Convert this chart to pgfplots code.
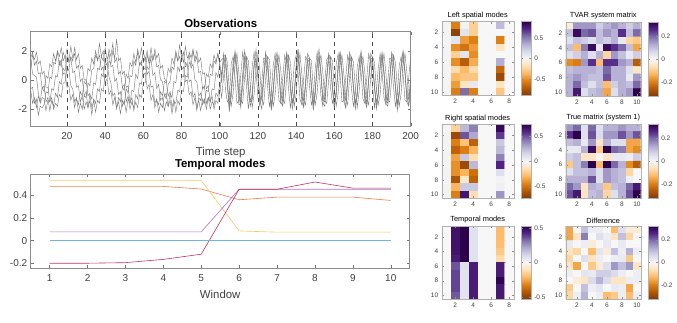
\documentclass[border=0pt]{standalone}
\usepackage{fontspec}
\setmainfont{Liberation Sans}
\usepackage{pgfplots}
\usepackage{pgfplotstable}
\pgfplotsset{compat=1.18}

\pgfplotsset{
  colormap={puor}{rgb255=(127,59,8) rgb255=(179,88,6) rgb255=(224,130,20) rgb255=(253,184,99) rgb255=(254,224,182) rgb255=(247,247,247) rgb255=(216,218,235) rgb255=(178,171,210) rgb255=(128,115,172) rgb255=(84,39,136) rgb255=(45,0,75)},
  every axis/.append style={/pgf/number format/assume math mode=true},
  lineax/.style={
    scale only axis,
    axis line style={black!45, line width=0.5pt},
    tick style={black!55, line width=0.4pt},
    tick align=inside, major tick length=3pt,
    tick label style={font=\fontsize{10}{11}\selectfont, text=black!75},
    xticklabel style={yshift=-3pt},
    title style={font=\bfseries\fontsize{11.4}{13}\selectfont, yshift=-5pt},
    label style={font=\fontsize{11.4}{13}\selectfont, text=black!75},
    xlabel style={yshift=-1pt},
  },
  hm/.style={
    scale only axis, height=74pt, y dir=reverse,
    xmin=0.5, ymin=0.5, ymax=10.5,
    axis on top, colormap name=puor, colorbar,
    tick align=inside, major tick length=2pt,
    tick style={black!45, line width=0.3pt},
    axis line style={black!30, line width=0.4pt},
    ytick={2,4,6,8,10},
    tick label style={font=\fontsize{6.5}{7}\selectfont, text=black!75},
    title style={font=\fontsize{7.4}{8}\selectfont, yshift=-7pt},
    colorbar style={
      scale only axis, width=9.5pt, at={(parent axis.north east)},
      anchor=north west, xshift=-1pt,
      axis line style={black!30}, tick style={black!45},
      major tick length=2pt, tick align=inside,
      yticklabel style={font=\fontsize{6.5}{7}\selectfont, text=black!75},
    },
  },
  obsline/.style={black!52, line width=0.42pt},
}

\pgfplotstableread{
t a b c d e
1 1.4 -0.6 1.5 -0.7 0.9
2 0.4 -0.5 1.9 -1.6 1.7
3 0.3 -1.6 1.0 -1.2 1.4
4 0.2 -1.3 1.3 -1.9 1.9
5 -0.9 -2.4 0.4 -1.1 1.1
6 -1.6 -1.8 0.5 -1.5 1.3
7 -1.2 -1.9 -0.6 -0.5 0.4
8 -1.3 -1.7 -0.4 -0.8 0.6
9 -2.1 -0.8 -1.5 0.3 -0.5
10 -1.4 -0.9 -1.2 0.1 -0.5
11 -1.5 0.2 -2.1 1.1 -1.5
12 -0.6 0.1 -1.4 0.9 -1.2
13 -0.7 1.2 -1.8 1.8 -2.0
14 0.3 1.1 -0.9 1.3 -1.6
15 0.2 2.0 -1.2 1.9 -1.8
16 1.3 1.6 -0.1 1.0 -1.0
17 0.9 2.2 -0.3 1.4 -1.2
18 1.9 1.3 0.8 0.4 -0.2
19 1.5 1.6 0.6 0.5 -0.2
20 2.1 0.6 1.6 -0.5 0.8
21 1.2 0.7 1.3 -0.4 0.7
22 1.5 -0.4 2.3 -1.4 1.6
23 0.5 -0.6 1.5 -1.0 1.3
24 0.6 -1.5 1.8 -1.9 2.2
25 -0.5 -1.2 0.8 -1.3 1.4
26 -0.4 -2.2 1.0 -1.7 1.8
27 -1.5 -1.6 -0.1 -0.8 0.8
28 -1.1 -2.0 0.1 -1.1 1.0
29 -2.0 -1.1 -1.1 -0.1 0.0
30 -1.5 -1.2 -0.8 -0.3 0.0
31 -1.9 -0.2 -1.9 0.8 -1.1
32 -1.0 -0.4 -1.4 0.6 -0.9
33 -1.3 0.7 -2.4 1.5 -1.9
34 -0.2 0.8 -1.3 1.1 -1.4
35 -0.3 1.7 -1.6 2.0 -2.2
36 0.8 1.4 -0.6 1.3 -1.4
37 0.7 2.5 -0.8 1.7 -1.6
38 1.6 1.6 0.4 0.7 -0.6
39 1.3 2.0 0.2 0.9 -0.8
40 2.2 1.0 1.3 -0.2 0.4
41 1.4 1.1 1.0 0.1 0.2
42 1.8 0.2 2.1 -1.0 1.3
43 0.9 -0.2 1.6 -0.7 1.1
44 1.0 -1.1 2.5 -1.7 2.0
45 -0.1 -0.9 1.2 -1.2 1.5
46 0.1 -1.9 1.5 -2.0 2.8
47 -1.0 -1.5 0.4 -1.2 1.3
48 -0.8 -2.3 0.6 -1.5 1.5
49 -1.8 -1.4 -0.5 -0.5 0.4
50 -1.4 -1.7 -0.3 -0.7 0.6
51 -2.2 -0.6 -1.5 0.4 -0.5
52 -1.3 -0.9 -1.1 0.1 -0.4
53 -1.6 0.3 -2.0 1.2 -1.6
54 -0.7 0.2 -1.5 0.9 -1.2
55 -0.8 1.3 -1.9 1.8 -2.1
56 0.4 1.0 -1.0 1.2 -1.5
57 0.1 2.1 -1.3 1.9 -1.9
58 1.2 1.5 -0.2 1.0 -1.0
59 1.0 2.2 -0.3 1.3 -1.2
60 1.9 1.2 0.9 0.3 -0.2
61 1.4 1.5 0.7 0.5 -0.2
62 2.0 0.4 1.7 -0.6 0.9
63 1.1 0.6 1.2 -0.3 0.7
64 1.4 -0.5 2.2 -1.4 1.7
65 0.3 -0.4 1.4 -1.0 1.3
66 0.5 -1.6 1.8 -1.9 2.1
67 -0.6 -1.3 0.9 -1.4 1.5
68 -0.3 -2.2 1.0 -1.7 1.8
69 -1.4 -1.6 0.0 -0.8 0.8
70 -1.2 -1.9 -0.1 -1.1 1.0
71 -2.1 -1.0 -1.1 -0.1 0.1
72 -1.5 -1.3 -0.9 -0.2 -0.1
73 -1.8 -0.3 -1.8 0.8 -1.1
74 -0.9 -0.1 -1.4 0.5 -0.8
75 -1.2 0.9 -2.3 1.5 -1.9
76 -0.1 0.7 -1.5 1.1 -1.3
77 -0.2 1.8 -1.6 2.0 -2.2
78 0.9 1.3 -0.7 1.3 -1.4
79 0.6 2.4 -0.8 1.6 -1.7
80 1.7 1.5 0.3 0.7 -0.7
81 1.2 1.9 0.2 0.9 -0.8
82 2.3 0.9 1.2 -0.1 0.3
83 1.5 1.0 1.0 0.0 0.2
84 1.7 -0.1 1.9 -1.0 1.2
85 0.8 0.0 1.5 -0.8 1.0
86 1.1 -1.2 2.1 -1.7 2.0
87 0.0 -0.9 1.2 -1.2 1.4
88 -0.1 -1.9 1.6 -2.1 2.0
89 -1.1 -1.4 0.5 -1.2 1.2
90 -0.9 -2.1 0.6 -1.4 1.5
91 -1.7 -1.3 -0.6 -0.5 0.4
92 -1.3 -1.6 -0.4 -0.6 0.5
93 -2.0 -0.7 -1.6 0.4 -0.6
94 -1.2 -0.8 -1.2 0.2 -0.4
95 -1.5 0.4 -2.0 1.1 -1.5
96 -0.6 0.3 -1.5 0.8 -1.1
97 -0.7 1.3 -1.7 1.7 -2.0
98 0.5 1.1 -0.9 1.2 -1.4
99 0.2 1.8 -1.1 1.8 -1.6
100 1.1 1.2 -0.3 1.0 -0.8
101 0.3 1.4 -1.2 -0.2 0.4
102 1.8 1.5 0.2 1.6 1.2
103 1.0 -0.7 1.7 1.7 1.4
104 -0.3 -1.5 1.2 -0.4 -0.2
105 -1.9 -1.3 -0.6 -2.2 -1.7
106 -1.2 1.1 -1.8 -0.9 -0.6
107 0.6 1.6 -0.9 1.3 0.6
108 2.0 0.2 1.0 1.8 1.7
109 0.9 -1.6 1.8 0.4 0.7
110 -1.0 -1.4 0.5 -1.7 -1.0
111 -1.9 0.3 -1.4 -1.6 -1.6
112 -0.4 1.9 -1.6 0.2 0.3
113 1.3 1.1 0.1 2.0 1.6
114 1.6 -0.4 1.6 1.3 1.0
115 -0.2 -2.0 1.3 -0.8 -0.6
116 -1.5 -0.7 -0.4 -1.8 -1.4
117 -1.4 0.9 -1.9 -1.2 -1.0
118 1.2 1.9 -1.0 0.9 1.0
119 1.5 0.6 0.8 2.1 1.4
120 0.2 -1.2 1.8 0.7 0.3
121 -1.6 -1.8 0.6 -1.4 -1.3
122 -1.3 -0.2 -1.3 -2.0 -1.2
123 0.3 1.5 -1.7 -0.1 0.2
124 1.9 1.4 0.0 1.7 1.3
125 0.9 -0.4 1.6 1.6 1.2
126 -0.7 -1.8 1.4 -0.5 -0.3
127 -2.0 -1.1 -0.5 -2.1 -1.7
128 -0.6 1.0 -1.8 -1.0 -0.7
129 1.1 1.8 -1.0 1.2 0.7
130 1.4 0.4 0.9 1.9 1.6
131 0.8 -1.4 1.7 0.5 0.6
132 -1.5 -1.6 0.6 -1.6 -1.0
133 -1.8 0.1 -1.3 -1.7 -1.5
134 0.2 1.7 -1.6 0.1 0.2
135 1.7 1.2 0.1 1.9 1.5
136 1.1 -0.6 1.7 1.4 1.0
137 -0.2 -1.9 1.2 -0.7 -0.5
138 -1.6 -0.8 -0.5 -2.0 -1.5
139 -1.2 1.1 -1.8 -1.1 -0.9
140 0.7 1.7 -1.0 1.0 0.9
141 2.1 0.5 1.0 2.0 1.5
142 0.4 -1.3 1.8 0.6 0.3
143 -1.1 -1.7 0.4 -1.5 -1.2
144 -1.8 0.2 -1.4 -1.9 -1.4
145 -0.3 1.6 -1.7 0.0 -0.1
146 1.4 1.3 0.1 1.8 1.4
147 1.5 -0.4 1.5 1.5 1.2
148 -0.6 -1.7 1.3 -0.6 -0.3
149 -1.8 -1.2 -0.6 -2.1 -1.6
150 -1.0 0.8 -1.7 -0.9 -0.7
151 1.2 1.9 -0.9 1.1 0.8
152 1.6 0.6 1.1 2.1 1.6
153 0.3 -1.1 1.7 0.5 0.5
154 -1.4 -1.8 0.5 -1.6 -1.2
155 -1.5 -0.1 -1.4 -1.8 -1.3
156 0.2 1.4 -1.6 -0.1 0.2
157 1.8 1.6 -0.1 1.7 1.3
158 1.2 -0.5 1.6 1.6 1.1
159 -0.4 -1.6 1.3 -0.6 -0.5
160 -1.9 -1.0 -0.6 -1.9 -1.5
161 -0.8 1.1 -1.8 -1.1 -0.8
162 0.8 1.8 -0.9 1.2 0.7
163 1.9 0.4 1.0 1.9 1.6
164 0.7 -1.5 1.7 0.6 0.4
165 -1.2 -1.4 0.4 -1.5 -1.1
166 -1.9 0.2 -1.3 -1.9 -1.4
167 -0.1 1.7 -1.7 0.1 0.1
168 1.6 1.1 0.2 1.9 1.5
169 1.3 -0.6 1.6 1.4 1.2
170 -0.5 -1.8 1.2 -0.7 -0.4
171 -1.6 -0.9 -0.5 -2.0 -1.6
172 -1.1 0.9 -1.9 -1.0 -0.8
173 1.0 1.6 -0.8 1.0 0.8
174 1.8 0.6 1.1 2.0 1.5
175 0.4 -1.3 1.6 0.7 0.5
176 -1.3 -1.6 0.5 -1.4 -1.2
177 -1.7 0.1 -1.3 -1.9 -1.5
178 0.1 1.8 -1.7 0.0 0.0
179 1.5 1.2 0.1 1.8 1.4
180 1.4 -0.4 1.6 1.5 1.1
181 -0.3 -1.9 1.2 -0.5 -0.5
182 -1.8 -0.8 -0.6 -2.0 -1.5
183 -1.0 0.8 -1.7 -1.1 -0.9
184 0.9 1.8 -1.0 1.1 0.8
185 1.7 0.6 0.9 1.9 1.6
186 0.6 -1.2 1.8 0.5 0.4
187 -1.4 -1.7 0.5 -1.6 -1.1
188 -1.6 -0.1 -1.4 -1.8 -1.4
189 0.0 1.5 -1.5 -0.1 0.1
190 1.7 1.4 0.0 1.9 1.4
191 1.2 -0.5 1.7 1.5 1.2
192 -0.6 -1.8 1.2 -0.6 -0.4
193 -1.7 -1.0 -0.5 -2.1 -1.6
194 -0.9 1.0 -1.8 -1.0 -0.7
195 1.0 1.6 -0.9 1.1 0.9
196 1.9 0.4 1.0 2.0 1.5
197 0.5 -1.4 1.8 0.6 0.5
198 -1.2 -1.5 0.5 -1.5 -1.2
199 -1.7 0.2 -1.4 -1.8 -1.3
200 0.1 1.6 -1.5 0.0 0.1
}\obs

\begin{document}
\begin{tikzpicture}
\useasboundingbox (0pt,0pt) rectangle (677pt,322pt);

% observations
\begin{axis}[lineax, at={(30.7pt,196pt)}, anchor=south west,
  width=380pt, height=94.3pt,
  xmin=1, xmax=200, ymin=-3.15, ymax=3.3,
  xtick={20,40,...,200}, ytick={-2,0,2},
  title={Observations}, xlabel={Time step}]
\addplot[obsline] table[x=t, y=a] {\obs};
\addplot[obsline] table[x=t, y=b] {\obs};
\addplot[obsline] table[x=t, y=c] {\obs};
\addplot[obsline] table[x=t, y=d] {\obs};
\addplot[obsline] table[x=t, y=e] {\obs};
\pgfplotsinvokeforeach{20,40,...,180}{
  \addplot[black!70, line width=0.5pt, dash pattern=on 4pt off 4pt] coordinates {(#1,-3.15) (#1,3.3)};
}
\end{axis}

% temporal modes, lines
\begin{axis}[lineax, at={(30.7pt,53.7pt)}, anchor=south west,
  width=379pt, height=94.3pt,
  xmin=0.5, xmax=10.5, ymin=-0.245, ymax=0.59,
  xtick={1,...,10}, ytick={-0.2,0,0.2,0.4},
  title={Temporal modes}, xlabel={Window}]
\addplot[color={rgb,255:red,235;green,125;blue,75}, line width=0.6pt] coordinates {(1,0.48) (2,0.48) (3,0.48) (4,0.48) (5,0.457) (6,0.362) (7,0.385) (8,0.385) (9,0.385) (10,0.356)};
\addplot[color={rgb,255:red,247;green,200;blue,100}, line width=0.6pt] coordinates {(1,0.533) (2,0.533) (3,0.533) (4,0.533) (5,0.533) (6,0.086) (7,0.075) (8,0.075) (9,0.075) (10,0.075)};
\addplot[color={rgb,255:red,175;green,115;blue,205}, line width=0.6pt] coordinates {(1,0.078) (2,0.078) (3,0.078) (4,0.078) (5,0.078) (6,0.455) (7,0.455) (8,0.455) (9,0.455) (10,0.455)};
\addplot[color={rgb,255:red,195;green,55;blue,95}, line width=0.6pt] coordinates {(1,-0.2) (2,-0.2) (3,-0.195) (4,-0.166) (5,-0.12) (6,0.455) (7,0.455) (8,0.519) (9,0.465) (10,0.465)};
\addplot[color={rgb,255:red,110;green,180;blue,225}, line width=0.7pt] coordinates {(1,0) (2,0) (3,0) (4,0) (5,0) (6,0) (7,0) (8,0) (9,0) (10,0)};
\end{axis}

% left spatial modes
\begin{axis}[hm, at={(441.7pt,226.5pt)}, anchor=south west, width=72pt,
  xmax=8.5, xtick={2,4,6,8}, title={Left spatial modes},
  point meta min=-0.9, point meta max=0.9,
  colorbar style={ytick={-0.5,0,0.5}}]
\addplot[matrix plot*, mesh/cols=8, point meta=explicit] coordinates {
(1,1) [0.02] (2,1) [-0.55] (3,1) [0.03] (4,1) [-0.25] (5,1) [0] (6,1) [0] (7,1) [0.3] (8,1) [0]
(1,2) [0.02] (2,2) [-0.85] (3,2) [0.12] (4,2) [-0.25] (5,2) [0] (6,2) [0] (7,2) [0] (8,2) [0]
(1,3) [0.02] (2,3) [0.12] (3,3) [-0.45] (4,3) [-0.55] (5,3) [0] (6,3) [0] (7,3) [-0.55] (8,3) [0]
(1,4) [0.02] (2,4) [-0.5] (3,4) [-0.6] (4,4) [-0.45] (5,4) [0] (6,4) [0] (7,4) [-0.15] (8,4) [0]
(1,5) [0.02] (2,5) [-0.25] (3,5) [0.12] (4,5) [-0.5] (5,5) [0] (6,5) [0] (7,5) [0] (8,5) [0]
(1,6) [0.02] (2,6) [-0.5] (3,6) [-0.7] (4,6) [-0.4] (5,6) [0] (6,6) [0] (7,6) [0.35] (8,6) [0]
(1,7) [0.02] (2,7) [-0.2] (3,7) [-0.35] (4,7) [-0.2] (5,7) [0] (6,7) [0] (7,7) [-0.65] (8,7) [0]
(1,8) [0.02] (2,8) [-0.35] (3,8) [-0.3] (4,8) [-0.3] (5,8) [0] (6,8) [0] (7,8) [-0.8] (8,8) [0]
(1,9) [0.02] (2,9) [-0.45] (3,9) [-0.15] (4,9) [0.1] (5,9) [0] (6,9) [0] (7,9) [-0.15] (8,9) [0]
(1,10) [0.02] (2,10) [-0.55] (3,10) [0.55] (4,10) [-0.55] (5,10) [0] (6,10) [0] (7,10) [-0.3] (8,10) [0]
};
\end{axis}

% TVAR system matrix
\begin{axis}[hm, at={(565.7pt,226pt)}, anchor=south west, width=75pt,
  xmax=10.5, xtick={2,4,6,8,10}, title={TVAR system matrix},
  point meta min=-0.32, point meta max=0.32,
  colorbar style={ytick={-0.2,0,0.2}}]
\addplot[matrix plot*, mesh/cols=10, point meta=explicit] coordinates {
(1,1) [-0.03] (2,1) [0.15] (3,1) [0.15] (4,1) [0.15] (5,1) [0.08] (6,1) [0.12] (7,1) [0.15] (8,1) [0.12] (9,1) [0.08] (10,1) [0.12]
(1,2) [0.1] (2,2) [0.3] (3,2) [0.2] (4,2) [0.22] (5,2) [0.1] (6,2) [0.15] (7,2) [0.12] (8,2) [0.25] (9,2) [0.1] (10,2) [0.2]
(1,3) [0.05] (2,3) [0.1] (3,3) [0.08] (4,3) [0.05] (5,3) [0.1] (6,3) [0.08] (7,3) [0.12] (8,3) [0.03] (9,3) [-0.08] (10,3) [-0.1]
(1,4) [0.1] (2,4) [-0.12] (3,4) [0.18] (4,4) [0.3] (5,4) [0.03] (6,4) [0.3] (7,4) [0.25] (8,4) [0.2] (9,4) [0.1] (10,4) [-0.15]
(1,5) [0.05] (2,5) [0.08] (3,5) [0.12] (4,5) [0.05] (5,5) [0.12] (6,5) [-0.08] (7,5) [0.15] (8,5) [0.1] (9,5) [0.03] (10,5) [0.08]
(1,6) [-0.18] (2,6) [-0.2] (3,6) [0.15] (4,6) [0.25] (5,6) [-0.12] (6,6) [0.25] (7,6) [0.25] (8,6) [0.15] (9,6) [0.12] (10,6) [-0.25]
(1,7) [0.1] (2,7) [0.12] (3,7) [0.12] (4,7) [0.12] (5,7) [0.1] (6,7) [0.2] (7,7) [0.12] (8,7) [0.12] (9,7) [0.05] (10,7) [-0.05]
(1,8) [0.12] (2,8) [0.15] (3,8) [0.12] (4,8) [0.1] (5,8) [0.1] (6,8) [0.22] (7,8) [0.12] (8,8) [0.12] (9,8) [0.03] (10,8) [0.15]
(1,9) [0.12] (2,9) [0.2] (3,9) [0.1] (4,9) [0.05] (5,9) [0.1] (6,9) [-0.12] (7,9) [0.08] (8,9) [0.12] (9,9) [0.1] (10,9) [0.2]
(1,10) [0.12] (2,10) [0.28] (3,10) [0.05] (4,10) [0.1] (5,10) [0.12] (6,10) [-0.15] (7,10) [0.05] (8,10) [0.12] (9,10) [0.15] (10,10) [0.32]
};
\end{axis}

% right spatial modes
\begin{axis}[hm, at={(441.7pt,123.7pt)}, anchor=south west, width=72pt,
  xmax=8.5, xtick={2,4,6,8}, title={Right spatial modes},
  point meta min=-0.73, point meta max=0.73,
  colorbar style={ytick={-0.5,0,0.5}}]
\addplot[matrix plot*, mesh/cols=8, point meta=explicit] coordinates {
(1,1) [0.02] (2,1) [-0.2] (3,1) [0.25] (4,1) [0.4] (5,1) [0] (6,1) [0] (7,1) [0.7] (8,1) [0]
(1,2) [0.02] (2,2) [-0.65] (3,2) [0.5] (4,2) [0.3] (5,2) [0] (6,2) [0] (7,2) [0.55] (8,2) [0]
(1,3) [0.02] (2,3) [-0.45] (3,3) [-0.25] (4,3) [-0.55] (5,3) [0] (6,3) [0] (7,3) [0.2] (8,3) [0]
(1,4) [0.02] (2,4) [-0.55] (3,4) [-0.45] (4,4) [-0.3] (5,4) [0] (6,4) [0] (7,4) [0.25] (8,4) [0]
(1,5) [0.02] (2,5) [-0.35] (3,5) [0.2] (4,5) [-0.15] (5,5) [0] (6,5) [0] (7,5) [0.4] (8,5) [0]
(1,6) [0.02] (2,6) [-0.4] (3,6) [-0.65] (4,6) [0.25] (5,6) [0] (6,6) [0] (7,6) [0.6] (8,6) [0]
(1,7) [0.02] (2,7) [-0.4] (3,7) [-0.3] (4,7) [-0.5] (5,7) [0] (6,7) [0] (7,7) [0.12] (8,7) [0]
(1,8) [0.02] (2,8) [-0.6] (3,8) [-0.1] (4,8) [-0.55] (5,8) [0] (6,8) [0] (7,8) [0.02] (8,8) [0]
(1,9) [0.02] (2,9) [-0.3] (3,9) [0.2] (4,9) [0.2] (5,9) [0] (6,9) [0] (7,9) [0.04] (8,9) [0]
(1,10) [0.02] (2,10) [-0.45] (3,10) [0.65] (4,10) [-0.15] (5,10) [0] (6,10) [0] (7,10) [0.35] (8,10) [0]
};
\end{axis}

% true matrix
\begin{axis}[hm, at={(565.7pt,124pt)}, anchor=south west, width=75pt,
  xmax=10.5, xtick={2,4,6,8,10}, title={True matrix (system 1)},
  point meta min=-0.32, point meta max=0.32,
  colorbar style={ytick={-0.2,0,0.2}}]
\addplot[matrix plot*, mesh/cols=10, point meta=explicit] coordinates {
(1,1) [0.15] (2,1) [0.2] (3,1) [0.05] (4,1) [0.2] (5,1) [0.05] (6,1) [0.12] (7,1) [0.12] (8,1) [0.15] (9,1) [0.12] (10,1) [0.12]
(1,2) [0.25] (2,2) [0.32] (3,2) [0.05] (4,2) [0.22] (5,2) [0.06] (6,2) [0.15] (7,2) [0.15] (8,2) [0.22] (9,2) [0.15] (10,2) [0.22]
(1,3) [0.1] (2,3) [0.12] (3,3) [0.03] (4,3) [0.15] (5,3) [-0.05] (6,3) [0.12] (7,3) [0.05] (8,3) [0.05] (9,3) [-0.15] (10,3) [-0.15]
(1,4) [0.03] (2,4) [0.03] (3,4) [0.12] (4,4) [0.3] (5,4) [-0.1] (6,4) [0.32] (7,4) [0.2] (8,4) [0.18] (9,4) [-0.15] (10,4) [-0.18]
(1,5) [0.08] (2,5) [0.1] (3,5) [-0.05] (4,5) [-0.05] (5,5) [0] (6,5) [-0.05] (7,5) [0.03] (8,5) [0.03] (9,5) [0.02] (10,5) [0.08]
(1,6) [-0.1] (2,6) [0.1] (3,6) [0.18] (4,6) [0.32] (5,6) [-0.12] (6,6) [0.32] (7,6) [0.2] (8,6) [0.12] (9,6) [-0.18] (10,6) [-0.25]
(1,7) [0.05] (2,7) [0.1] (3,7) [0.1] (4,7) [0.12] (5,7) [0.05] (6,7) [0.15] (7,7) [0.12] (8,7) [0.1] (9,7) [-0.08] (10,7) [0]
(1,8) [0.12] (2,8) [0.12] (3,8) [0.12] (4,8) [0.22] (5,8) [0.05] (6,8) [0.15] (7,8) [0.12] (8,8) [0.1] (9,8) [0.02] (10,8) [0]
(1,9) [0.2] (2,9) [0.15] (3,9) [-0.05] (4,9) [0.12] (5,9) [0.1] (6,9) [-0.1] (7,9) [0.1] (8,9) [0.12] (9,9) [0.2] (10,9) [0.28]
(1,10) [0.22] (2,10) [0.28] (3,10) [-0.05] (4,10) [0.1] (5,10) [0.12] (6,10) [-0.08] (7,10) [0.05] (8,10) [0.12] (9,10) [0.22] (10,10) [0.32]
};
\end{axis}

% temporal modes, heatmap
\begin{axis}[hm, at={(441.7pt,23pt)}, anchor=south west, width=72pt, height=73pt,
  xmax=8.5, xtick={2,4,6,8}, title={Temporal modes},
  point meta min=-0.53, point meta max=0.53,
  colorbar style={ytick={-0.5,0,0.5}}]
\addplot[matrix plot*, mesh/cols=8, point meta=explicit] coordinates {
(1,1) [0] (2,1) [0.48] (3,1) [0.533] (4,1) [0.078] (5,1) [0] (6,1) [0] (7,1) [-0.2] (8,1) [0]
(1,2) [0] (2,2) [0.48] (3,2) [0.533] (4,2) [0.078] (5,2) [0] (6,2) [0] (7,2) [-0.2] (8,2) [0]
(1,3) [0] (2,3) [0.48] (3,3) [0.533] (4,3) [0.078] (5,3) [0] (6,3) [0] (7,3) [-0.195] (8,3) [0]
(1,4) [0] (2,4) [0.48] (3,4) [0.533] (4,4) [0.078] (5,4) [0] (6,4) [0] (7,4) [-0.166] (8,4) [0]
(1,5) [0] (2,5) [0.457] (3,5) [0.533] (4,5) [0.078] (5,5) [0] (6,5) [0] (7,5) [-0.12] (8,5) [0]
(1,6) [0] (2,6) [0.362] (3,6) [0.086] (4,6) [0.455] (5,6) [0] (6,6) [0] (7,6) [0.455] (8,6) [0]
(1,7) [0] (2,7) [0.385] (3,7) [0.075] (4,7) [0.455] (5,7) [0] (6,7) [0] (7,7) [0.455] (8,7) [0]
(1,8) [0] (2,8) [0.385] (3,8) [0.075] (4,8) [0.455] (5,8) [0] (6,8) [0] (7,8) [0.519] (8,8) [0]
(1,9) [0] (2,9) [0.385] (3,9) [0.075] (4,9) [0.455] (5,9) [0] (6,9) [0] (7,9) [0.465] (8,9) [0]
(1,10) [0] (2,10) [0.356] (3,10) [0.075] (4,10) [0.455] (5,10) [0] (6,10) [0] (7,10) [0.465] (8,10) [0]
};
\end{axis}

% difference
\begin{axis}[hm, at={(565.7pt,23pt)}, anchor=south west, width=75pt, height=73pt,
  xmax=10.5, xtick={2,4,6,8,10}, title={Difference},
  point meta min=-0.32, point meta max=0.32,
  colorbar style={ytick={-0.2,0,0.2}}]
\addplot[matrix plot*, mesh/cols=10, point meta=explicit] coordinates {
(1,1) [-0.15] (2,1) [0] (3,1) [0.1] (4,1) [0.02] (5,1) [0.02] (6,1) [0] (7,1) [-0.12] (8,1) [0.05] (9,1) [-0.03] (10,1) [-0.03]
(1,2) [-0.15] (2,2) [-0.05] (3,2) [0.18] (4,2) [0] (5,2) [0.05] (6,2) [0.02] (7,2) [-0.05] (8,2) [0.1] (9,2) [-0.08] (10,2) [0]
(1,3) [0.03] (2,3) [0] (3,3) [0.02] (4,3) [-0.03] (5,3) [0] (6,3) [0.03] (7,3) [0] (8,3) [0.03] (9,3) [0] (10,3) [0]
(1,4) [-0.05] (2,4) [-0.08] (3,4) [0] (4,4) [-0.12] (5,4) [0.04] (6,4) [-0.03] (7,4) [0.1] (8,4) [0.02] (9,4) [0.12] (10,4) [0.02]
(1,5) [-0.08] (2,5) [0] (3,5) [0.05] (4,5) [-0.05] (5,5) [0.02] (6,5) [0] (7,5) [0.02] (8,5) [0.03] (9,5) [-0.1] (10,5) [0]
(1,6) [-0.05] (2,6) [-0.15] (3,6) [0] (4,6) [-0.1] (5,6) [-0.03] (6,6) [0.05] (7,6) [0.15] (8,6) [0.1] (9,6) [0.15] (10,6) [-0.05]
(1,7) [0.02] (2,7) [0] (3,7) [0.04] (4,7) [0.03] (5,7) [0.08] (6,7) [0.08] (7,7) [0.06] (8,7) [0.02] (9,7) [0] (10,7) [0.02]
(1,8) [0] (2,8) [-0.03] (3,8) [-0.05] (4,8) [0.06] (5,8) [0.12] (6,8) [0.06] (7,8) [-0.05] (8,8) [-0.05] (9,8) [0.02] (10,8) [0.02]
(1,9) [-0.1] (2,9) [0] (3,9) [0.1] (4,9) [0.02] (5,9) [0.04] (6,9) [0] (7,9) [0.03] (8,9) [0.02] (9,9) [-0.15] (10,9) [0]
(1,10) [-0.08] (2,10) [0.02] (3,10) [0.12] (4,10) [0] (5,10) [0.02] (6,10) [-0.12] (7,10) [-0.1] (8,10) [0.02] (9,10) [-0.12] (10,10) [0.02]
};
\end{axis}

\end{tikzpicture}
\end{document}
